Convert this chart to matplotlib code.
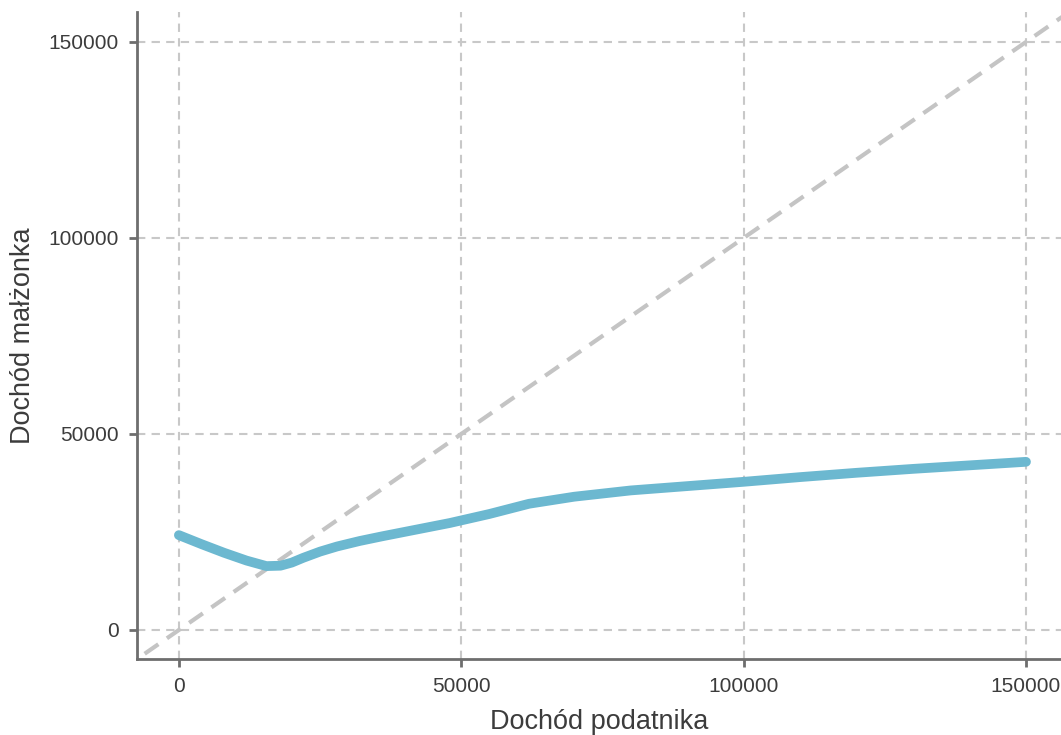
import numpy as np
import matplotlib.pyplot as plt

plt.rcParams['font.family'] = ['Liberation Sans', 'DejaVu Sans']

# Curve
dochod_podatnika = [0, 4000, 8000, 12000, 15500, 18000, 20000, 22000, 25000, 28000,
                    32000, 36000, 42000, 48000, 55000, 62000, 70000, 80000, 90000,
                    100000, 110000, 120000, 130000, 140000, 150000]
dochod_malzonka = [24200, 21900, 19700, 17700, 16300, 16400, 17200, 18400, 20000, 21300,
                   22700, 23900, 25600, 27300, 29600, 32200, 34000, 35600, 36700,
                   37800, 39000, 40100, 41100, 42000, 42900]

diag = [-10000, 170000]
ticks = [0, 50000, 100000, 150000]

LINE = "#6CB8D0"
GRID = "#C8C8C8"
SPINE = "#6E6E6E"
TXT = "#3C3C3C"

fig = plt.figure(figsize=(10.61, 7.35), dpi=100)
ax = fig.add_axes([0.129, 0.1034, 0.871, 0.8803])

ax.grid(True, color=GRID, linestyle=(0, (4, 3)), linewidth=1.5)
ax.set_axisbelow(True)

ax.plot(diag, diag, color="#C4C4C4", linewidth=3, linestyle=(0, (4, 2.5)), zorder=2)
ax.plot(dochod_podatnika, dochod_malzonka, color=LINE, linewidth=7,
        solid_capstyle="round", solid_joinstyle="round", zorder=3)

ax.set_xlim(-7440, 156200)
ax.set_ylim(-7400, 157650)
ax.set_xticks(ticks)
ax.set_yticks(ticks)
ax.set_xticklabels([str(t) for t in ticks])
ax.set_yticklabels([str(t) for t in ticks])

for s in ["top", "right"]:
    ax.spines[s].set_visible(False)
for s in ["left", "bottom"]:
    ax.spines[s].set_color(SPINE)
    ax.spines[s].set_linewidth(2)

ax.tick_params(colors=SPINE, labelcolor=TXT, length=6, width=2, labelsize=15, pad=7)
ax.set_xlabel("Dochód podatnika", fontsize=19.5, color=TXT, labelpad=9)
ax.set_ylabel("Dochód małżonka", fontsize=19.5, color=TXT, labelpad=9)

fig.savefig("out.png", dpi=100)
